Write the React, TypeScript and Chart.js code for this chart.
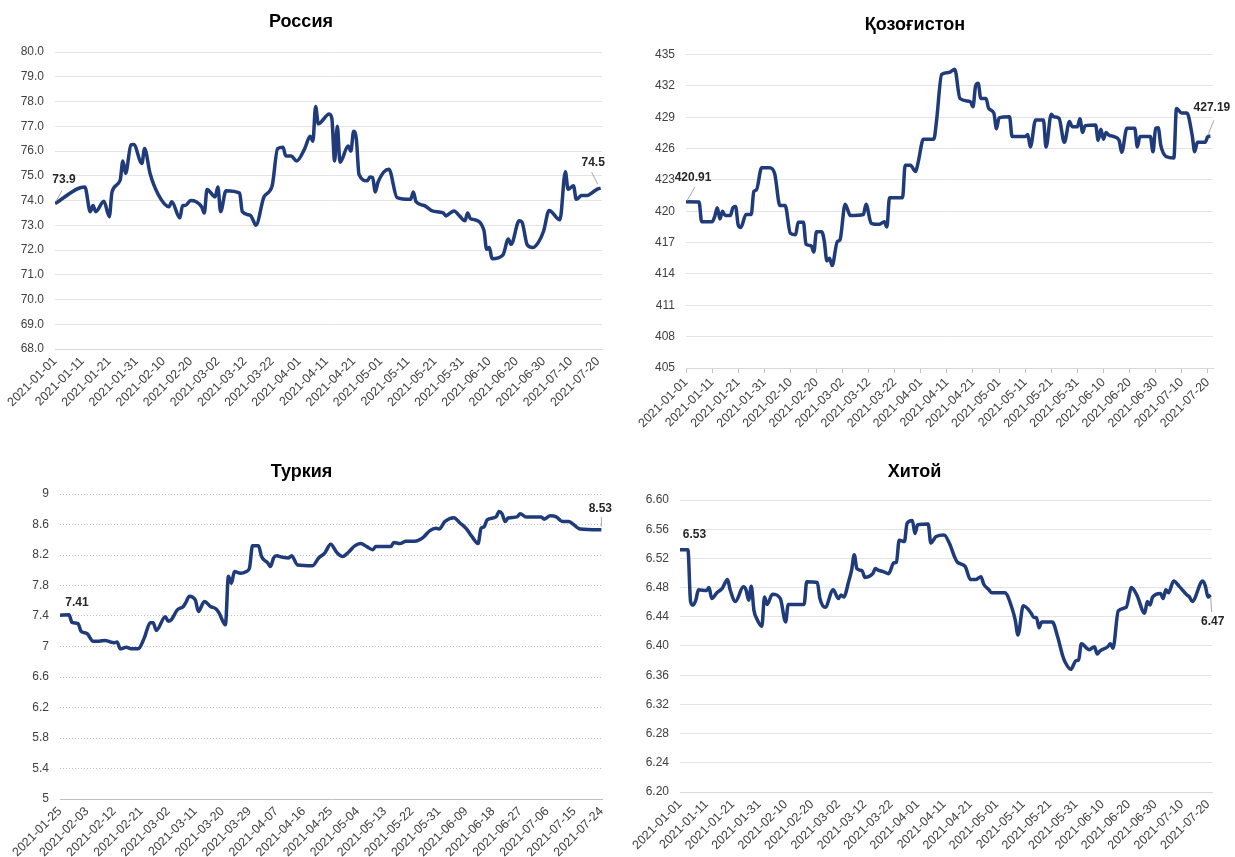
import { useEffect, useRef } from 'react';
import { Chart, registerables } from 'chart.js';

Chart.register(...registerables);

// ---- Data (day offset from start date, rate) ----
const russiaStart = '2021-01-01';
const russiaRates: [number, number][] = [
  [0, 73.88], [11, 74.55], [13, 73.55], [14, 73.8], [15, 73.55], [18, 73.97], [20, 73.35], [21, 74.35],
  [24, 74.82], [25, 75.6], [26, 75.1], [28, 76.25], [29, 76.27], [32, 75.5], [33, 76.1], [35, 75.1],
  [38, 74.25], [42, 73.75], [43, 73.95], [46, 73.3], [47, 73.8], [48, 73.8], [50, 74.0], [52, 73.95],
  [54, 73.75], [55, 73.5], [56, 74.45], [59, 74.15], [60, 74.55], [61, 73.55], [63, 74.4], [68, 74.3],
  [69, 73.55], [72, 73.4], [73, 73.2], [74, 73.0], [77, 74.15], [80, 74.6], [82, 76.1], [84, 76.15],
  [85, 75.8], [87, 75.8], [89, 75.6], [92, 76.1], [94, 76.6], [95, 76.4], [96, 77.8], [97, 77.1],
  [101, 77.5], [102, 77.3], [103, 75.6], [104, 77.0], [105, 75.55], [108, 76.2], [109, 76.0], [110, 76.8],
  [111, 76.5], [112, 75.05], [115, 74.8], [116, 74.95], [117, 74.93], [118, 74.35], [119, 74.75], [123, 75.27],
  [126, 74.12], [131, 74.05], [132, 74.35], [133, 73.95], [136, 73.8], [139, 73.58], [143, 73.5], [144, 73.38],
  [145, 73.45], [147, 73.58], [149, 73.38], [151, 73.18], [152, 73.5], [153, 73.27], [154, 73.24], [158, 72.8],
  [159, 72.03], [160, 72.1], [161, 71.65], [165, 71.8], [167, 72.45], [168, 72.23], [171, 73.18], [172, 73.13],
  [174, 72.2], [176, 72.1], [178, 72.3], [180, 72.77], [182, 73.6], [186, 73.22], [188, 75.16], [189, 74.46],
  [191, 74.6], [192, 74.05], [194, 74.2], [196, 74.2], [198, 74.33], [200, 74.47], [201, 74.5],
];

const kazStart = '2021-01-01';
const kazRates: [number, number][] = [
  [0, 420.91], [5, 420.9], [6, 419.0], [10, 419.0], [11, 419.5], [12, 420.35], [13, 419.27], [14, 420.0],
  [15, 419.6], [17, 419.6], [18, 420.35], [19, 420.45], [20, 418.7], [21, 418.45], [23, 419.7], [25, 419.7],
  [26, 421.9], [27, 422.05], [29, 424.18], [32, 424.18], [34, 423.6], [36, 420.55], [38, 420.55], [40, 417.9],
  [42, 417.75], [43, 418.95], [45, 418.95], [46, 416.85], [48, 416.7], [49, 416.1], [50, 418.05], [52, 418.05],
  [53, 417.15], [54, 415.25], [55, 415.5], [56, 414.8], [58, 417.1], [59, 417.25], [61, 420.67], [63, 419.6],
  [68, 419.7], [69, 420.67], [71, 418.85], [74, 418.75], [76, 419.0], [77, 418.5], [78, 421.3], [83, 421.3],
  [84, 424.4], [86, 424.4], [88, 423.8], [89, 424.7], [91, 426.9], [95, 426.9], [96, 428.6], [98, 433.1],
  [101, 433.3], [103, 433.6], [105, 430.8], [109, 430.5], [110, 430.0], [111, 432.0], [112, 432.25], [113, 430.8],
  [115, 430.8], [116, 429.85], [118, 429.4], [119, 427.9], [120, 428.95], [124, 429.05], [125, 427.15], [130, 427.15],
  [131, 427.35], [132, 426.15], [134, 428.75], [137, 428.75], [138, 426.15], [140, 429.3], [141, 429.05], [143, 428.9],
  [145, 426.6], [147, 428.6], [148, 428.1], [150, 428.1], [151, 428.85], [152, 427.55], [153, 428.2], [157, 428.25],
  [158, 426.8], [159, 427.85], [160, 426.9], [161, 427.55], [162, 427.3], [164, 427.15], [166, 426.8], [167, 425.65],
  [169, 427.95], [172, 427.95], [173, 426.15], [174, 427.15], [178, 427.15], [179, 425.7], [180, 427.95], [181, 428.0],
  [182, 426.3], [184, 425.25], [187, 425.1], [188, 429.85], [190, 429.4], [192, 429.4], [194, 427.3], [195, 425.7],
  [196, 426.6], [199, 426.6], [200, 427.15], [201, 427.19],
];

const turkeyStart = '2021-01-25';
const turkeyRates: [number, number][] = [
  [0, 7.41], [3, 7.415], [4, 7.315], [6, 7.3], [7, 7.2], [9, 7.17], [11, 7.07], [13, 7.07],
  [15, 7.08], [16, 7.07], [18, 7.05], [19, 7.06], [20, 6.97], [22, 6.99], [24, 6.97], [26, 6.97],
  [28, 7.11], [30, 7.31], [31, 7.31], [32, 7.21], [35, 7.39], [36, 7.33], [37, 7.35], [39, 7.48],
  [41, 7.525], [42, 7.59], [43, 7.66], [45, 7.61], [46, 7.46], [48, 7.59], [50, 7.525], [52, 7.49],
  [53, 7.43], [55, 7.285], [56, 7.92], [57, 7.83], [58, 7.985], [60, 7.96], [62, 7.985], [63, 8.03],
  [64, 8.32], [66, 8.32], [67, 8.18], [69, 8.1], [70, 8.05], [71, 8.16], [72, 8.19], [74, 8.17],
  [76, 8.16], [77, 8.19], [79, 8.07], [84, 8.06], [86, 8.16], [88, 8.225], [90, 8.34], [92, 8.235],
  [94, 8.18], [96, 8.24], [98, 8.32], [100, 8.35], [102, 8.31], [104, 8.27], [105, 8.31], [110, 8.31],
  [111, 8.365], [113, 8.35], [115, 8.38], [118, 8.38], [120, 8.41], [121, 8.44], [123, 8.52], [125, 8.55],
  [126, 8.54], [128, 8.64], [131, 8.69], [133, 8.62], [135, 8.55], [137, 8.44], [139, 8.35], [140, 8.55],
  [141, 8.57], [142, 8.66], [145, 8.7], [146, 8.77], [147, 8.74], [148, 8.64], [149, 8.685], [152, 8.7],
  [153, 8.74], [155, 8.7], [160, 8.7], [161, 8.67], [163, 8.715], [165, 8.7], [167, 8.64], [169, 8.64],
  [173, 8.54], [180, 8.53],
];

const chinaStart = '2021-01-01';
const chinaRates: [number, number][] = [
  [0, 6.532], [3, 6.532], [4, 6.461], [5, 6.456], [6, 6.463], [7, 6.477], [10, 6.476], [11, 6.48],
  [12, 6.465], [14, 6.473], [16, 6.479], [18, 6.491], [19, 6.477], [21, 6.461], [24, 6.481], [25, 6.477],
  [26, 6.463], [27, 6.482], [28, 6.449], [29, 6.438], [31, 6.427], [32, 6.467], [33, 6.457], [35, 6.471],
  [38, 6.465], [40, 6.433], [41, 6.457], [47, 6.457], [48, 6.488], [52, 6.487], [53, 6.465], [55, 6.453],
  [58, 6.477], [60, 6.465], [61, 6.47], [62, 6.467], [64, 6.49], [65, 6.504], [66, 6.525], [67, 6.506],
  [69, 6.503], [70, 6.494], [73, 6.499], [74, 6.506], [75, 6.504], [77, 6.502], [79, 6.499], [81, 6.514],
  [82, 6.515], [83, 6.545], [85, 6.543], [86, 6.568], [88, 6.572], [89, 6.554], [90, 6.566], [94, 6.567],
  [95, 6.541], [97, 6.55], [100, 6.552], [102, 6.541], [104, 6.522], [105, 6.515], [108, 6.509], [110, 6.491],
  [112, 6.491], [114, 6.495], [115, 6.485], [117, 6.477], [118, 6.473], [123, 6.473], [126, 6.449], [127, 6.435],
  [128, 6.415], [130, 6.455], [133, 6.445], [134, 6.439], [135, 6.439], [136, 6.425], [137, 6.433], [141, 6.433],
  [143, 6.413], [145, 6.386], [146, 6.377], [148, 6.368], [150, 6.38], [151, 6.381], [152, 6.403], [155, 6.395],
  [157, 6.399], [158, 6.389], [159, 6.393], [162, 6.399], [163, 6.403], [164, 6.397], [166, 6.448], [169, 6.453],
  [171, 6.48], [173, 6.47], [176, 6.445], [177, 6.461], [178, 6.456], [179, 6.467], [182, 6.472], [183, 6.465],
  [184, 6.477], [185, 6.473], [187, 6.489], [189, 6.482], [192, 6.47], [193, 6.467], [194, 6.461], [198, 6.489],
  [199, 6.482], [200, 6.467], [201, 6.47],
];

const titles = ['Россия', 'Қозоғистон', 'Туркия', 'Хитой'];

// ---- Styling ----
const FONT = '"Liberation Sans", Arial, sans-serif';
const NAVY = '#1f3b7a';
const INNER = '#d3dbec';
const TICK_COLOR = '#404040';

function fmtDate(start: string, offset: number) {
  const [y, m, d] = start.split('-').map(Number);
  const dt = new Date(Date.UTC(y, m - 1, d + Math.round(offset)));
  return dt.toISOString().slice(0, 10);
}

type LabelItem = {
  at: 'first' | 'last';
  dx: number;
  dy: number;
  decimals: number;
  leader?: [number, number, number, number];
};

const endLabelPlugin = {
  id: 'endLabels',
  afterDatasetsDraw(chart: any, _args: any, opts: any) {
    const items: LabelItem[] = opts?.items || [];
    const meta = chart.getDatasetMeta(0);
    const data = chart.data.datasets[0].data as { x: number; y: number }[];
    const ctx = chart.ctx as CanvasRenderingContext2D;
    ctx.save();
    items.forEach((it) => {
      const idx = it.at === 'first' ? 0 : data.length - 1;
      const el = meta.data[idx];
      if (!el) return;
      const px = el.x;
      const py = el.y;
      if (it.leader) {
        ctx.strokeStyle = '#a6a6a6';
        ctx.lineWidth = 1;
        ctx.beginPath();
        ctx.moveTo(px + it.leader[0], py + it.leader[1]);
        ctx.lineTo(px + it.leader[2], py + it.leader[3]);
        ctx.stroke();
      }
      ctx.fillStyle = '#262626';
      ctx.font = `bold 12px ${FONT}`;
      ctx.textAlign = 'center';
      ctx.textBaseline = 'middle';
      ctx.fillText(data[idx].y.toFixed(it.decimals), px + it.dx, py + it.dy);
    });
    ctx.restore();
  },
};

type PanelCfg = {
  title: string;
  start: string;
  series: [number, number][];
  xMax: number;
  step: number;
  yMin: number;
  yMax: number;
  yStep: number;
  yDecimals: number | null;
  yWidth: number;
  xHeight: number;
  padRight: number;
  titleTop: number;
  titleBottom: number;
  dotted: boolean;
  xTickMarks: boolean;
  labels: LabelItem[];
  left: number;
  top: number;
  width: number;
  height: number;
};

const panels: PanelCfg[] = [
  {
    title: titles[0], start: russiaStart, series: russiaRates, xMax: 201.5, step: 10,
    yMin: 68, yMax: 80, yStep: 1, yDecimals: 1, yWidth: 55, xHeight: 83, padRight: 15,
    titleTop: 11, titleBottom: 19.5, dotted: false, xTickMarks: false,
    labels: [
      { at: 'first', dx: 9, dy: -24, decimals: 1, leader: [1, -2, 7, -13] },
      { at: 'last', dx: -7.5, dy: -25, decimals: 1, leader: [-3, -4, -9, -16] },
    ],
    left: 0, top: 0, width: 617, height: 432,
  },
  {
    title: titles[1], start: kazStart, series: kazRates, xMax: 202, step: 10,
    yMin: 405, yMax: 435, yStep: 3, yDecimals: 0, yWidth: 69, xHeight: 64, padRight: 22,
    titleTop: 14, titleBottom: 19, dotted: false, xTickMarks: true,
    labels: [
      { at: 'first', dx: 7, dy: -24.5, decimals: 2, leader: [1, -1, 9, -15] },
      { at: 'last', dx: 1.5, dy: -29, decimals: 2, leader: [-2.5, -1, 3.5, -16] },
    ],
    left: 617, top: 0, width: 618, height: 432,
  },
  {
    title: titles[2], start: turkeyStart, series: turkeyRates, xMax: 180.3, step: 9,
    yMin: 5, yMax: 9, yStep: 0.4, yDecimals: null, yWidth: 60, xHeight: 58, padRight: 14,
    titleTop: 21, titleBottom: 11.4, dotted: true, xTickMarks: false,
    labels: [
      { at: 'first', dx: 17, dy: -13, decimals: 2 },
      { at: 'last', dx: -1, dy: -21, decimals: 2, leader: [0, -3, 0, -13] },
    ],
    left: 0, top: 440, width: 617, height: 417,
  },
  {
    title: titles[3], start: chinaStart, series: chinaRates, xMax: 201.5, step: 10,
    yMin: 6.2, yMax: 6.6, yStep: 0.04, yDecimals: 2, yWidth: 63, xHeight: 65, padRight: 23,
    titleTop: 21, titleBottom: 17.4, dotted: false, xTickMarks: false,
    labels: [
      { at: 'first', dx: 14.5, dy: -15, decimals: 2 },
      { at: 'last', dx: 2, dy: 27, decimals: 2, leader: [0, 2, 1, 17] },
    ],
    left: 617, top: 440, width: 618, height: 417,
  },
];

function buildConfig(c: PanelCfg): any {
  const pts = c.series.map(([x, y]) => ({ x, y }));
  const common = {
    pointRadius: 0,
    pointHoverRadius: 0,
    cubicInterpolationMode: 'monotone',
    fill: false,
  };
  return {
    type: 'line',
    data: {
      datasets: [
        { ...common, data: pts, borderColor: NAVY, borderWidth: 3.5 },
        { ...common, data: pts, borderColor: INNER, borderWidth: 1 },
      ],
    },
    options: {
      animation: false,
      responsive: false,
      maintainAspectRatio: false,
      events: [],
      layout: { padding: { left: 0, right: c.padRight, top: 0, bottom: 0 } },
      plugins: {
        legend: { display: false },
        tooltip: { enabled: false },
        title: {
          display: true,
          text: c.title,
          color: '#000000',
          font: { family: FONT, size: 18, weight: 'bold', lineHeight: 1.2 },
          padding: { top: c.titleTop, bottom: c.titleBottom },
        },
        endLabels: { items: c.labels },
      },
      scales: {
        x: {
          type: 'linear',
          min: 0,
          max: c.xMax,
          afterBuildTicks: (s: any) => {
            const arr: { value: number }[] = [];
            for (let v = 0; v <= c.xMax + 1e-9; v += c.step) arr.push({ value: v });
            s.ticks = arr;
          },
          afterFit: (s: any) => {
            s.height = c.xHeight;
          },
          ticks: {
            stepSize: c.step,
            autoSkip: false,
            minRotation: 45,
            maxRotation: 45,
            padding: c.xTickMarks ? 2 : 5,
            color: TICK_COLOR,
            font: { family: FONT, size: 12.5 },
            callback: (v: any) => fmtDate(c.start, Number(v)),
          },
          grid: {
            display: true,
            drawOnChartArea: false,
            drawTicks: c.xTickMarks,
            tickLength: 5,
            color: '#bfbfbf',
          },
          border: { display: true, color: c.dotted ? '#bfbfbf' : '#d9d9d9', width: 1 },
        },
        y: {
          min: c.yMin,
          max: c.yMax,
          afterFit: (s: any) => {
            s.width = c.yWidth;
          },
          ticks: {
            stepSize: c.yStep,
            padding: 11,
            color: TICK_COLOR,
            font: { family: FONT, size: 12 },
            callback: (v: any) =>
              c.yDecimals === null
                ? String(Number(Number(v).toFixed(2)))
                : Number(v).toFixed(c.yDecimals),
          },
          grid: {
            color: c.dotted ? '#bfbfbf' : '#e4e4e4',
            drawTicks: false,
            lineWidth: 1,
          },
          border: { display: false, dash: c.dotted ? [1, 2] : undefined },
        },
      },
    },
    plugins: [endLabelPlugin],
  };
}

function Panel({ cfg }: { cfg: PanelCfg }) {
  const ref = useRef<HTMLCanvasElement | null>(null);
  useEffect(() => {
    if (!ref.current) return;
    const chart = new Chart(ref.current, buildConfig(cfg));
    return () => chart.destroy();
  }, [cfg]);
  return (
    <canvas
      ref={ref}
      width={cfg.width}
      height={cfg.height}
      style={{
        position: 'absolute',
        left: cfg.left,
        top: cfg.top,
        width: cfg.width,
        height: cfg.height,
      }}
    />
  );
}

export default function App() {
  return (
    <div
      style={{
        position: 'absolute',
        left: 0,
        top: 0,
        width: 1235,
        height: 857,
        background: '#ffffff',
        overflow: 'hidden',
      }}
    >
      {panels.map((p, i) => (
        <Panel key={i} cfg={p} />
      ))}
    </div>
  );
}
